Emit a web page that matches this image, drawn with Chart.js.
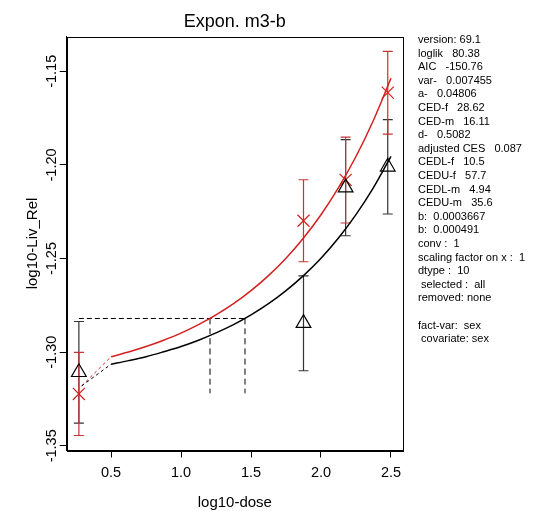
<!DOCTYPE html>
<html>
<head>
<meta charset="utf-8">
<script src="https://cdn.jsdelivr.net/npm/chart.js@4.4.0/dist/chart.umd.min.js"></script>
<style>
html,body{margin:0;padding:0;background:#fff;}
</style>
</head>
<body>
<canvas id="myChart" width="533" height="511"></canvas>
<script>
// dose groups (log10-dose, the control is drawn at 0.27)
var doseLog = [0.27, 1.875, 2.176, 2.477];

// black = f, red = m
var fMean = [-1.3107, -1.2845, -1.2121, -1.2010];
var fLow  = [-1.3379, -1.3099, -1.2378, -1.2262];
var fHigh = [-1.2836, -1.2592, -1.1865, -1.1758];
var mMean = [-1.3223, -1.2298, -1.2080, -1.1614];
var mLow  = [-1.3445, -1.2517, -1.2310, -1.1835];
var mHigh = [-1.3001, -1.2079, -1.1851, -1.1393];

// fitted curves
var curveX = [0.5, 0.625, 0.75, 0.875, 1.0, 1.125, 1.25, 1.375, 1.5, 1.625, 1.75, 1.875, 2.0, 2.125, 2.25, 2.375, 2.5];
var curveF = [-1.3064, -1.3045, -1.3024, -1.2998, -1.2970, -1.2936, -1.2897, -1.2853, -1.2801, -1.2741, -1.2671, -1.2591, -1.2498, -1.2390, -1.2265, -1.2121, -1.1954];
var curveM = [-1.3024, -1.2999, -1.2970, -1.2936, -1.2898, -1.2853, -1.2801, -1.2741, -1.2671, -1.2591, -1.2498, -1.2390, -1.2266, -1.2121, -1.1955, -1.1761, -1.1537];

// dashed bits: link from control to curve start, CES level, CED lines
var linkX = [0.29, 0.5];
var linkF = [-1.318, -1.3064];
var linkM = [-1.318, -1.3024];
var cesX = [0.27, 1.457];
var cesY = [-1.282, -1.282];
var cedX = [1.207, 1.457];
var cedY = [-1.282, -1.322];

var xTicks = [0.5, 1.0, 1.5, 2.0, 2.5];
var yTicks = [-1.35, -1.30, -1.25, -1.20, -1.15];

var infoLines = [
  "version: 69.1",
  "loglik   80.38",
  "AIC   -150.76",
  "var-   0.007455",
  "a-   0.04806",
  "CED-f   28.62",
  "CED-m   16.11",
  "d-   0.5082",
  "adjusted CES   0.087",
  "CEDL-f   10.5",
  "CEDU-f   57.7",
  "CEDL-m   4.94",
  "CEDU-m   35.6",
  "b:  0.0003667",
  "b:  0.000491",
  "conv :  1",
  "scaling factor on x :  1",
  "dtype :  10",
  " selected :  all",
  "removed: none",
  "",
  "fact-var:  sex",
  " covariate: sex"
];

var RED = "#d42020";
var FONT = "'Liberation Sans', Arial, sans-serif";

function pts(xs, ys) {
  return xs.map(function (x, i) { return {x: x, y: ys[i]}; });
}

function lineSet(data, color, width, dash) {
  return {
    type: "line", data: data, borderColor: color, borderWidth: width,
    borderDash: dash || [], pointRadius: 0, fill: false,
    cubicInterpolationMode: "monotone"
  };
}

var datasets = [
  lineSet(pts(curveX, curveF), "#000", 1.5),
  lineSet(pts(curveX, curveM), RED, 1.5),
  lineSet(pts(linkX, linkF), "#000", 1, [3, 3]),
  lineSet(pts(linkX, linkM), RED, 1, [3, 3]),
  lineSet(pts(cesX, cesY), "#000", 1, [5, 3]),
  lineSet([{x: cedX[0], y: cedY[0]}, {x: cedX[0], y: cedY[1]}], "#000", 1, [6, 4]),
  lineSet([{x: cedX[1], y: cedY[0]}, {x: cedX[1], y: cedY[1]}], "#000", 1, [6, 4]),
  {
    type: "scatter", data: pts(doseLog, fMean), pointStyle: "triangle",
    pointRadius: 8.5, pointBorderColor: "#000", pointBackgroundColor: "rgba(0,0,0,0)",
    pointBorderWidth: 1.2
  },
  {
    type: "scatter", data: pts(doseLog, mMean), pointStyle: "crossRot",
    pointRadius: 8.5, pointBorderColor: RED, pointBorderWidth: 1.2
  }
];

var errorBars = {
  id: "errorBars",
  beforeDatasetsDraw: function (chart) {
    var ctx = chart.ctx, xs = chart.scales.x, ys = chart.scales.y;
    function draw(low, high, color) {
      ctx.save();
      ctx.strokeStyle = color;
      ctx.lineWidth = 1.2;
      doseLog.forEach(function (d, i) {
        var px = xs.getPixelForValue(d);
        var p1 = ys.getPixelForValue(low[i]), p2 = ys.getPixelForValue(high[i]);
        ctx.beginPath();
        ctx.moveTo(px, p1); ctx.lineTo(px, p2);
        ctx.moveTo(px - 5, p1); ctx.lineTo(px + 5, p1);
        ctx.moveTo(px - 5, p2); ctx.lineTo(px + 5, p2);
        ctx.stroke();
      });
      ctx.restore();
    }
    draw(fLow, fHigh, "#333");
    draw(mLow, mHigh, "#c83434");
  }
};

var frameAndText = {
  id: "frameAndText",
  afterDraw: function (chart) {
    var ctx = chart.ctx, a = chart.chartArea;
    ctx.save();
    ctx.strokeStyle = "#000";
    ctx.lineWidth = 1;
    ctx.strokeRect(Math.round(a.left) + 0.5, Math.round(a.top) + 0.5,
      Math.round(a.right - a.left), Math.round(a.bottom - a.top));
    ctx.fillStyle = "#000";
    ctx.font = "18px " + FONT;
    ctx.textAlign = "center";
    ctx.textBaseline = "alphabetic";
    ctx.fillText("Expon. m3-b", (a.left + a.right) / 2, 27);
    ctx.font = "11px " + FONT;
    ctx.textAlign = "left";
    ctx.textBaseline = "middle";
    infoLines.forEach(function (t, i) {
      ctx.fillText(t, 418, 40 + i * 13.6);
    });
    ctx.restore();
  }
};

var mychart = new Chart("myChart", {
  type: "scatter",
  data: {datasets: datasets},
  options: {
    responsive: false,
    animation: false,
    layout: {padding: {top: 36.5, right: 130, left: 0, bottom: 0}},
    plugins: {legend: {display: false}, tooltip: {enabled: false}},
    scales: {
      x: {
        type: "linear", min: 0.183, max: 2.586,
        afterBuildTicks: function (s) { s.ticks = xTicks.map(function (v) { return {value: v}; }); },
        afterFit: function (s) { s.height = 60.5; },
        grid: {drawOnChartArea: false, drawTicks: true, tickLength: 7, color: "#000"},
        border: {display: true, color: "#000"},
        ticks: {
          color: "#000", font: {family: FONT, size: 14.5}, padding: 7,
          maxRotation: 0, autoSkip: false,
          callback: function (v) { return v.toFixed(1); }
        },
        title: {display: true, text: "log10-dose", color: "#000",
          font: {family: FONT, size: 15}, padding: {top: 0, bottom: -1}}
      },
      y: {
        type: "linear", min: -1.3525, max: -1.1314,
        afterBuildTicks: function (s) { s.ticks = yTicks.map(function (v) { return {value: v}; }); },
        afterFit: function (s) { s.width = 66.7; },
        grid: {drawOnChartArea: false, drawTicks: true, tickLength: 7, color: "#000"},
        border: {display: true, color: "#000"},
        ticks: {
          color: "#000", font: {family: FONT, size: 14.5}, padding: -9,
          minRotation: 90, maxRotation: 90, crossAlign: "center", autoSkip: false,
          callback: function (v) { return v.toFixed(2); }
        },
        title: {display: true, text: "log10-Liv_Rel", color: "#000",
          font: {family: FONT, size: 15}, padding: {top: 24, bottom: 0}}
      }
    }
  },
  plugins: [errorBars, frameAndText]
});
</script>
</body>
</html>
